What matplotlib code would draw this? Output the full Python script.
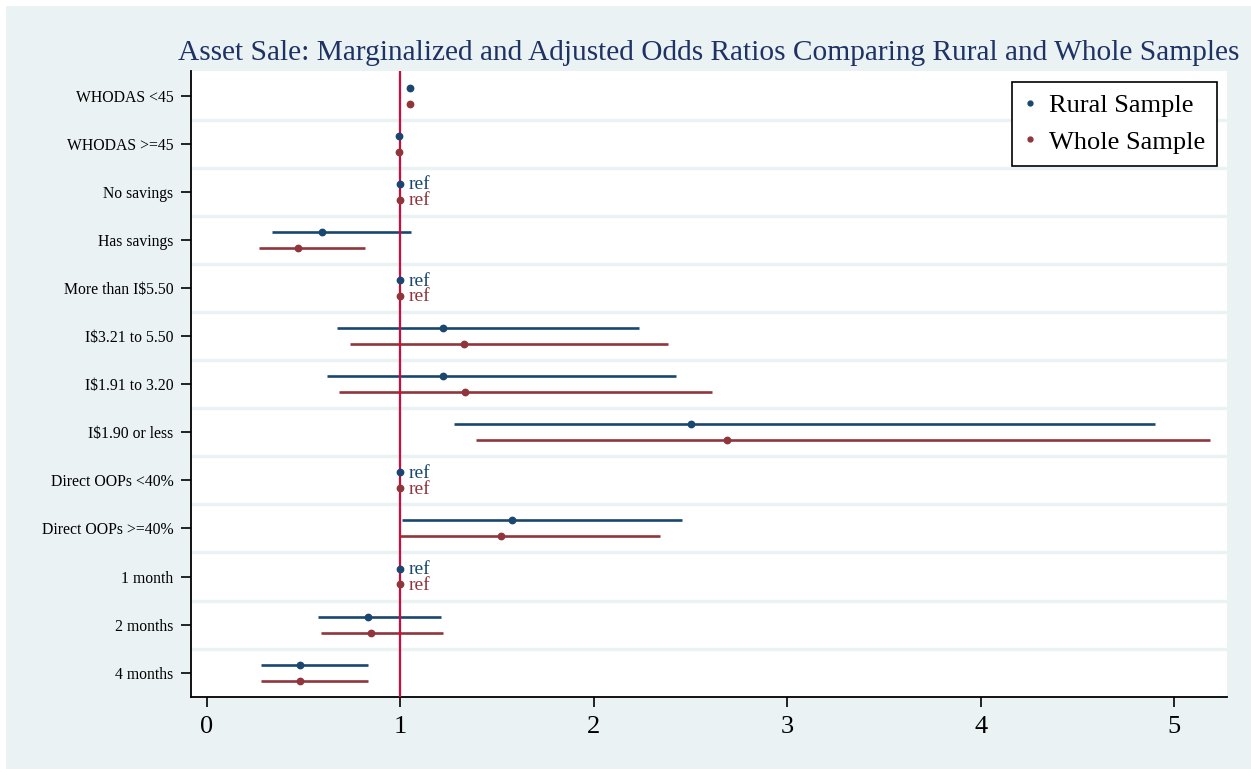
import numpy as np
import matplotlib
matplotlib.use("Agg")
import matplotlib.pyplot as plt
from matplotlib.lines import Line2D
from matplotlib.patches import Rectangle

plt.rcParams['font.family'] = ['Liberation Serif', 'DejaVu Serif']

labels = ["WHODAS <45", "WHODAS >=45", "No savings", "Has savings",
          "More than I$5.50", "I$3.21 to 5.50", "I$1.91 to 3.20", "I$1.90 or less",
          "Direct OOPs <40%", "Direct OOPs >=40%", "1 month", "2 months", "4 months"]
nan = np.nan
rural_or = [1.050, 0.990, 1.0, 0.593, 1.0, 1.222, 1.222, 2.503, 1.0, 1.576, 1.0, 0.831, 0.479]
rural_lo = [nan, nan, nan, 0.335, nan, 0.672, 0.619, 1.279, nan, 1.010, nan, 0.574, 0.278]
rural_hi = [nan, nan, nan, 1.055, nan, 2.232, 2.425, 4.899, nan, 2.456, nan, 1.207, 0.831]
whole_or = [1.050, 0.990, 1.0, 0.471, 1.0, 1.326, 1.336, 2.686, 1.0, 1.522, 1.0, 0.846, 0.481]
whole_lo = [nan, nan, nan, 0.271, nan, 0.738, 0.683, 1.391, nan, 0.990, nan, 0.588, 0.279]
whole_hi = [nan, nan, nan, 0.819, nan, 2.382, 2.613, 5.183, nan, 2.344, nan, 1.220, 0.831]
is_ref = [False, False, True, False, True, False, False, False, True, False, True, False, False]
xticks = [0, 1, 2, 3, 4, 5]

BG = "#EAF2F3"
NAVY = "#1A476F"
MAROON = "#90353B"
REDLINE = "#CF0A3C"
TITLE = "#1E3264"

fig = plt.figure(figsize=(12.51, 7.69), dpi=100)
fig.patch.set_facecolor("white")
fig.patches.append(Rectangle((6/1251, 0), 1 - 6/1251, 1 - 6/769, transform=fig.transFigure,
                             facecolor=BG, edgecolor="none", zorder=-10))

ax = fig.add_axes([191/1251, 1 - 696.7/769, (1227 - 191)/1251, (696.7 - 71)/769])
ax.set_facecolor("white")

n = len(labels)
y = np.arange(n)
off = 0.166

# grid lines between categories
for g in np.arange(0.5, n - 0.5, 1.0):
    ax.axhline(g, color=BG, lw=2.4, zorder=0)

ax.hlines(y - off, rural_lo, rural_hi, color=NAVY, lw=1.9, zorder=2)
ax.hlines(y + off, whole_lo, whole_hi, color=MAROON, lw=1.9, zorder=2)
ax.axvline(1, color=REDLINE, lw=1.6, zorder=3)
ax.plot(rural_or, y - off, 'o', color=NAVY, ms=4.6, zorder=4, linestyle='none')
ax.plot(whole_or, y + off, 'o', color=MAROON, ms=4.6, zorder=4, linestyle='none')

for i in range(n):
    if is_ref[i]:
        ax.text(rural_or[i] + 0.04, i - off + 0.02, "ref", color=NAVY, fontsize=14,
                va='center', ha='left', zorder=5)
        ax.text(whole_or[i] + 0.04, i + off + 0.02, "ref", color=MAROON, fontsize=14,
                va='center', ha='left', zorder=5)

ax.set_xlim(-0.083, 5.273)
ax.set_ylim(n - 0.5, -0.514)
ax.set_yticks(y)
ax.set_yticklabels(labels, fontsize=11.3)
ax.set_xticks(xticks)
ax.set_xticklabels([str(t) for t in xticks], fontsize=19)
ax.tick_params(axis='y', length=7.2, width=1.2, pad=5.5)
ax.tick_params(axis='x', length=7.2, width=1.2, pad=7)

for s in ['top', 'right']:
    ax.spines[s].set_visible(False)
for s in ['left', 'bottom']:
    ax.spines[s].set_linewidth(1.3)
    ax.spines[s].set_color("black")

ax.set_title("Asset Sale: Marginalized and Adjusted Odds Ratios Comparing Rural and Whole Samples",
             fontsize=21.2, color=TITLE, pad=8)

handles = [Line2D([], [], marker='o', color=NAVY, linestyle='none', ms=3.5),
           Line2D([], [], marker='o', color=MAROON, linestyle='none', ms=3.5)]
leg = ax.legend(handles, ["Rural Sample", "Whole Sample"], loc='upper right',
                bbox_to_anchor=(1 - 10.3/1036, 1 - 10.7/626), fontsize=19, frameon=True,
                fancybox=False, edgecolor="black", framealpha=1, handlelength=0.5,
                handletextpad=0.45, borderpad=0.45, labelspacing=0.5, borderaxespad=0)
leg.get_frame().set_linewidth(1.2)

fig.savefig("out.png", dpi=100, facecolor=fig.get_facecolor())
